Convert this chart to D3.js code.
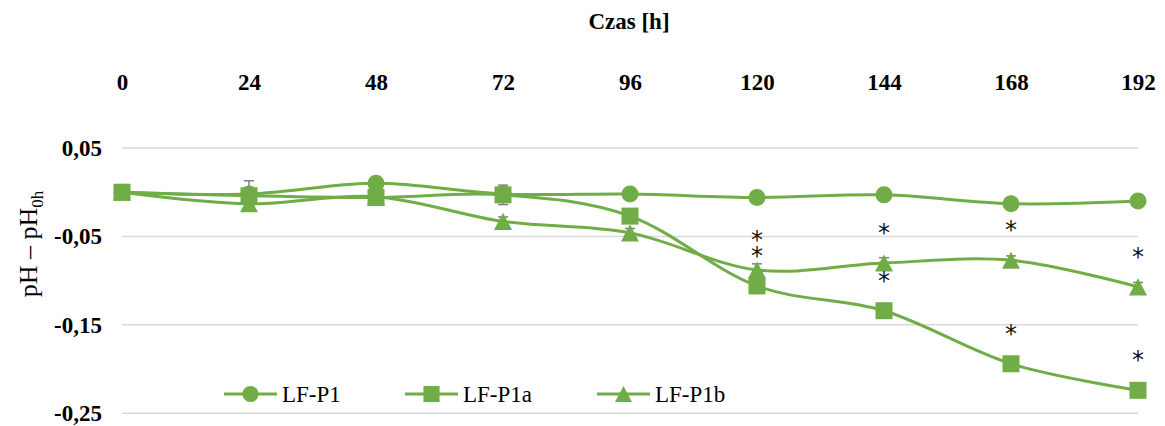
<!DOCTYPE html>
<html>
<head>
<meta charset="utf-8">
<script src="https://cdn.jsdelivr.net/npm/d3@7"></script>
<style>
  html, body { margin: 0; padding: 0; background: #fff; }
  svg { display: block; }
  svg text { font-family: "Liberation Serif", "Times New Roman", serif; }
  svg text.star { font-family: "DejaVu Sans", sans-serif; }
</style>
</head>
<body>
<svg id="chart" width="1165" height="426"></svg>
<script>
// Time points (hours) and pH change relative to 0 h
const hours = [0, 24, 48, 72, 96, 120, 144, 168, 192];
const seriesNames = ["LF-P1", "LF-P1a", "LF-P1b"];
const valuesP1  = [0, -0.002, 0.010, -0.002, -0.002, -0.006, -0.003, -0.013, -0.010];
const valuesP1a = [0, -0.004, -0.006, -0.003, -0.027, -0.106, -0.134, -0.194, -0.224];
const valuesP1b = [0, -0.013, -0.005, -0.033, -0.046, -0.088, -0.080, -0.077, -0.107];
// Standard deviations (error bars)
const errP1  = [0, 0, 0, 0, 0, 0, 0, 0, 0];
const errP1a = [0, 0.017, 0, 0.011, 0, 0, 0, 0, 0];
const errP1b = [0, 0, 0, 0.005, 0.005, 0.007, 0.006, 0.005, 0.005];
// Time points with a significant difference (*)
const sigP1a = [120, 144, 168, 192];
const sigP1b = [120, 144, 168, 192];
const yTicks = [0.05, -0.05, -0.15, -0.25];

const green = "#70AD47";
const grid = "#d9d9d9";
const serif = "'Liberation Serif', 'Times New Roman', serif";

const svg = d3.select("#chart");
const x = d3.scaleLinear().domain([0, 192]).range([122, 1138]);
const y = d3.scaleLinear().domain([0.05, -0.25]).range([148, 413.3]);
const fmt = v => d3.format(".2f")(v).replace(".", ",").replace("−", "-");

// Gridlines
svg.append("g").selectAll("line").data(yTicks).join("line")
  .attr("x1", x(0)).attr("x2", x(192))
  .attr("y1", d => y(d)).attr("y2", d => y(d))
  .attr("stroke", grid).attr("stroke-width", 1.5);

// Y tick labels
const yAxis = svg.append("g").attr("transform", "translate(122,0)")
  .call(d3.axisLeft(y).tickValues(yTicks).tickFormat(fmt).tickSize(0).tickPadding(20));
yAxis.select(".domain").remove();
yAxis.attr("font-family", null).attr("font-size", null);
yAxis.selectAll("text")
  .style("font-family", serif)
  .style("font-size", "23px").style("font-weight", "bold").attr("fill", "#000");

// Top axis (time)
const xAxis = svg.append("g").attr("transform", "translate(0,90)")
  .call(d3.axisTop(x).tickValues(hours).tickFormat(d3.format("d")).tickSize(0).tickPadding(0));
xAxis.select(".domain").remove();
xAxis.attr("font-family", null).attr("font-size", null);
xAxis.selectAll("text")
  .style("font-family", serif)
  .style("font-size", "23px").style("font-weight", "bold").attr("fill", "#000").attr("dy", 0);

svg.append("text").attr("x", 629).attr("y", 29).attr("text-anchor", "middle")
  .style("font-size", "23px").style("font-weight", "bold").text("Czas [h]");

// Y axis title
const yt = svg.append("text").attr("transform", "translate(37,244) rotate(-90)")
  .attr("text-anchor", "middle").style("font-size", "26px");
yt.append("tspan").text("pH – pH");
yt.append("tspan").style("font-size", "17px").attr("dy", 6).text("0h");

const line = d3.line().x(d => x(d[0])).y(d => y(d[1])).curve(d3.curveCardinal.tension(0));

// Triangle marker centred on its bounding box
const boxTriangle = {
  draw(context, size) {
    const w = Math.sqrt(size), h = w * 0.95;
    context.moveTo(0, -h / 2);
    context.lineTo(w / 2, h / 2);
    context.lineTo(-w / 2, h / 2);
    context.closePath();
  }
};
const symbols = [d3.symbolCircle, d3.symbolSquare, boxTriangle];
const symSizes = [227, 289, 324];
const allVals = [valuesP1, valuesP1a, valuesP1b];
const allErr = [errP1, errP1a, errP1b];

allVals.forEach((vals, i) => {
  const pts = hours.map((h, j) => [h, vals[j]]);
  const g = svg.append("g");
  g.append("path").attr("d", line(pts)).attr("fill", "none")
    .attr("stroke", green).attr("stroke-width", 3);
  // error bars
  const eb = hours.map((h, j) => ({h, v: vals[j], e: allErr[i][j]})).filter(d => d.e > 0);
  const ebg = g.append("g").attr("stroke", "#7f7f7f").attr("stroke-width", 1.5);
  ebg.selectAll(".v").data(eb).join("line")
    .attr("x1", d => x(d.h)).attr("x2", d => x(d.h))
    .attr("y1", d => y(d.v + d.e)).attr("y2", d => y(d.v - d.e));
  ebg.selectAll(".t").data(eb.flatMap(d => [d.v + d.e, d.v - d.e].map(v => ({h: d.h, v}))))
    .join("line")
    .attr("x1", d => x(d.h) - 5).attr("x2", d => x(d.h) + 5)
    .attr("y1", d => y(d.v)).attr("y2", d => y(d.v));
  g.selectAll(".m").data(pts).join("path")
    .attr("transform", d => `translate(${x(d[0])},${y(d[1])})`)
    .attr("d", d3.symbol().type(symbols[i]).size(symSizes[i]))
    .attr("fill", green);
});

// Significance markers above points
const sigs = [[sigP1a, valuesP1a], [sigP1b, valuesP1b]];
sigs.forEach(([hs, vals]) => {
  svg.append("g").selectAll("text").data(hs).join("text")
    .attr("class", "star")
    .attr("x", h => x(h)).attr("y", h => y(vals[hours.indexOf(h)]) - 36 + 14)
    .attr("text-anchor", "middle").style("font-size", "24px").attr("fill", "#111")
    .text("*");
});

// Legend
const legendX = [224, 405, 597];
seriesNames.forEach((name, i) => {
  const lg = svg.append("g").attr("transform", `translate(${legendX[i]},394)`);
  lg.append("line").attr("x1", 0).attr("x2", 53).attr("y1", 0).attr("y2", 0)
    .attr("stroke", green).attr("stroke-width", 3);
  lg.append("path").attr("transform", "translate(26.5,0)")
    .attr("d", d3.symbol().type(symbols[i]).size(symSizes[i] * 0.9)).attr("fill", green);
  lg.append("text").attr("x", 58).attr("y", 8).style("font-size", "23px").text(name);
});
</script>
</body>
</html>
